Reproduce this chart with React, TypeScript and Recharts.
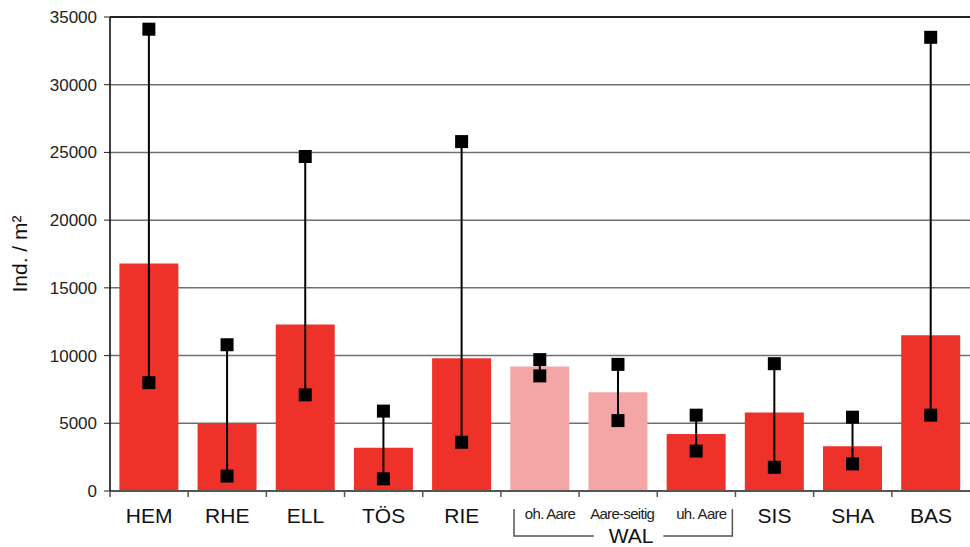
import React from "react";
import {
  ComposedChart,
  Bar,
  Cell,
  XAxis,
  YAxis,
  CartesianGrid,
  ReferenceLine,
} from "recharts";

// Mittelwerte, Minima und Maxima je Standort (Ind. / m²)
const sites = ["HEM", "RHE", "ELL", "TÖS", "RIE", "oh. Aare", "Aare-seitig", "uh. Aare", "SIS", "SHA", "BAS"];
const means = [16800, 5000, 12300, 3200, 9800, 9200, 7300, 4200, 5800, 3300, 11500];
const minima = [8000, 1100, 7100, 900, 3600, 8500, 5200, 2950, 1750, 2000, 5600];
const maxima = [34100, 10800, 24700, 5900, 25800, 9700, 9350, 5600, 9400, 5450, 33500];
const walSites = ["oh. Aare", "Aare-seitig", "uh. Aare"];
const yTicks = [0, 5000, 10000, 15000, 20000, 25000, 30000, 35000];

const RED = "#EE3229";
const PINK = "#F4A6A7";

const data = sites.map((site, i) => ({
  site,
  mean: means[i],
  range: [minima[i], maxima[i]],
}));

const W = 970;
const H = 547;
const Y_AXIS_W = 110;
const band = (W - Y_AXIS_W) / sites.length;
const font = "'Liberation Sans', Arial, sans-serif";

// horizontale Verschiebung der kleinen WAL-Beschriftungen
const subShift: Record<string, number> = { "oh. Aare": 10, "Aare-seitig": 4, "uh. Aare": 5 };

// Spannweite: senkrechte Linie mit Quadraten an Minimum und Maximum
const RangeShape = (props: any) => {
  const { x, y, width, height } = props;
  const cx = x + width / 2;
  const s = 13;
  return (
    <g>
      <line x1={cx} x2={cx} y1={y} y2={y + height} stroke="#000" strokeWidth={2} />
      <rect x={cx - s / 2} y={y - s / 2} width={s} height={s} fill="#000" />
      <rect x={cx - s / 2} y={y + height - s / 2} width={s} height={s} fill="#000" />
    </g>
  );
};

const SiteTick = (props: any) => {
  const { x, y, payload } = props;
  const name: string = payload.value;
  const small = walSites.includes(name);
  return (
    <g>
      <line x1={x - band / 2} x2={x - band / 2} y1={y} y2={y + 6} stroke="#555" strokeWidth={1.5} />
      {small ? (
        <text
          x={x + subShift[name]}
          y={y + 28}
          textAnchor="middle"
          fontSize={15}
          letterSpacing={-0.7}
          fontFamily={font}
          fill="#222"
        >
          {name}
        </text>
      ) : (
        <text x={x} y={y + 32} textAnchor="middle" fontSize={21} fontFamily={font} fill="#111">
          {name}
        </text>
      )}
      {name === "oh. Aare" && (
        <polyline points={`${x - 26},${y + 18} ${x - 26},${y + 45} ${x + 54},${y + 45}`} fill="none" stroke="#555" strokeWidth={1.5} />
      )}
      {name === "uh. Aare" && (
        <polyline points={`${x - 33},${y + 45} ${x + 36},${y + 45} ${x + 36},${y + 18}`} fill="none" stroke="#555" strokeWidth={1.5} />
      )}
      {name === "Aare-seitig" && (
        <text x={x + 13} y={y + 52} textAnchor="middle" fontSize={21} fontFamily={font} fill="#111">
          WAL
        </text>
      )}
    </g>
  );
};

export default function App() {
  return (
    <div style={{ position: "absolute", left: 0, top: 0, width: W, height: H, background: "#fff" }}>
      <ComposedChart
        width={W}
        height={H}
        data={data}
        margin={{ top: 17, right: 0, bottom: 0, left: 0 }}
        barCategoryGap="12%"
      >
        <CartesianGrid horizontal vertical={false} stroke="#6f6f6f" strokeWidth={1.5} />
        <XAxis
          dataKey="site"
          xAxisId="mean"
          interval={0}
          tickLine={false}
          tickSize={0}
          tickMargin={0}
          tick={<SiteTick />}
          axisLine={{ stroke: "#555", strokeWidth: 2 }}
          height={56}
        />
        <XAxis dataKey="site" xAxisId="range" hide />
        <YAxis
          width={Y_AXIS_W}
          domain={[0, 35000]}
          ticks={yTicks}
          interval={0}
          tickSize={6}
          tickMargin={7}
          tickLine={{ stroke: "#222" }}
          axisLine={{ stroke: "#000", strokeWidth: 1.5 }}
          tick={{ fontSize: 17, fontFamily: font, fill: "#222" }}
          label={{
            value: "Ind. / m²",
            angle: -90,
            position: "insideLeft",
            offset: 20,
            style: { textAnchor: "middle", fontSize: 21, fontFamily: font, fill: "#111" },
          }}
        />
        <ReferenceLine y={35000} xAxisId="mean" stroke="#000" strokeWidth={1.5} />
        <Bar dataKey="mean" xAxisId="mean" isAnimationActive={false}>
          {data.map((d) => (
            <Cell key={d.site} fill={walSites.slice(0, 2).includes(d.site) ? PINK : RED} />
          ))}
        </Bar>
        <Bar dataKey="range" xAxisId="range" isAnimationActive={false} shape={<RangeShape />} />
      </ComposedChart>
    </div>
  );
}
